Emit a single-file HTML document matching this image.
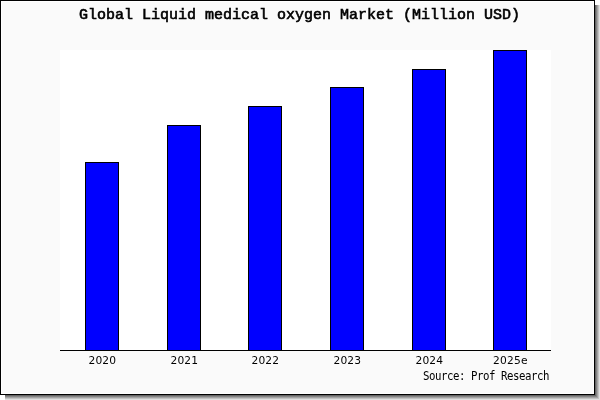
<!DOCTYPE html>
<html><head><meta charset="utf-8">
<style>
html,body{margin:0;padding:0;background:#fff;}
body{width:600px;height:400px;position:relative;overflow:hidden;font-family:"DejaVu Sans","Liberation Sans",sans-serif;}
.abs{position:absolute;}
#sh-r{left:595px;top:5px;width:5px;height:390px;background:linear-gradient(to right,#666666 0px,#666666 1px,#858585 1px,#858585 2px,#a3a3a3 2px,#a3a3a3 3px,#c2c2c2 3px,#c2c2c2 4px,#e0e0e0 4px,#e0e0e0 5px);}
#sh-b{left:5px;top:395px;width:590px;height:5px;background:linear-gradient(to bottom,#666666 0px,#666666 1px,#858585 1px,#858585 2px,#a3a3a3 2px,#a3a3a3 3px,#c2c2c2 3px,#c2c2c2 4px,#e0e0e0 4px,#e0e0e0 5px);}
.c{position:absolute;left:595px;top:395px;}
#frame{left:0;top:0;width:593px;height:393px;border:1px solid #000;background:#fafafa;box-shadow:inset 0 0 0 1px #fff;}
#plot{left:60px;top:50px;width:491px;height:300px;background:#fff;}
#axis{left:60px;top:350px;width:491px;height:1px;background:#000;}
.bar{position:absolute;width:32px;border:1px solid #000;border-bottom:none;background:#0000ff;}
.xl{position:absolute;top:354px;white-space:pre;letter-spacing:0.21px;font-size:10.67px;line-height:13px;color:#000;}
#title{left:79px;top:6px;white-space:pre;font-family:"Liberation Mono","DejaVu Sans Mono",monospace;font-weight:normal;-webkit-text-stroke:0.6px #000;font-size:15px;line-height:20px;color:#000;}
#src{left:423px;top:369px;white-space:pre;font-family:"DejaVu Sans Mono","Liberation Mono",monospace;font-size:12px;line-height:14px;color:#000;letter-spacing:-0.52px;transform:scaleX(0.895);transform-origin:0 0;}
</style></head><body>
<div class="abs" id="sh-r"></div>
<div class="abs" id="sh-b"></div>
<div class="c" style="width:5px;height:5px;background:#e0e0e0"></div><div class="c" style="width:4px;height:4px;background:#c2c2c2"></div><div class="c" style="width:3px;height:3px;background:#a3a3a3"></div><div class="c" style="width:2px;height:2px;background:#858585"></div><div class="c" style="width:1px;height:1px;background:#666666"></div>
<div class="abs" id="frame"></div>
<div class="abs" id="plot"></div>
<div class="bar" style="left:85px;top:162px;height:188px"></div>
<div class="bar" style="left:167px;top:125px;height:225px"></div>
<div class="bar" style="left:248px;top:106px;height:244px"></div>
<div class="bar" style="left:330px;top:87px;height:263px"></div>
<div class="bar" style="left:412px;top:69px;height:281px"></div>
<div class="bar" style="left:493px;top:50px;height:300px"></div>
<div class="abs" id="axis"></div>
<div class="xl" style="left:88.4px">2020</div>
<div class="xl" style="left:170.4px">2021</div>
<div class="xl" style="left:251.4px">2022</div>
<div class="xl" style="left:333.4px">2023</div>
<div class="xl" style="left:415.4px">2024</div>
<div class="xl" style="left:493.1px">2025e</div>
<div class="abs" id="title">Global Liquid medical oxygen Market (Million USD)</div>
<div class="abs" id="src">Source: Prof Research</div>
</body></html>
